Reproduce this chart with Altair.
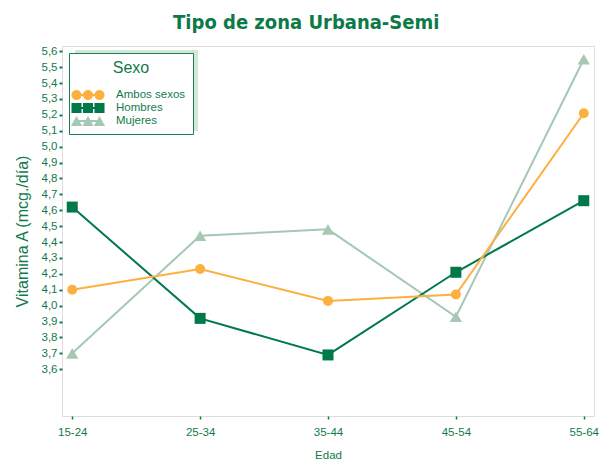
import altair as alt
import pandas as pd

edad = ["15-24", "25-34", "35-44", "45-54", "55-64"]
series = ["Ambos sexos", "Hombres", "Mujeres"]
ambos = [4.10, 4.23, 4.03, 4.07, 5.21]
hombres = [4.62, 3.92, 3.69, 4.21, 4.66]
mujeres = [3.70, 4.44, 4.48, 3.93, 5.55]
y_ticks = [3.6, 3.7, 3.8, 3.9, 4.0, 4.1, 4.2, 4.3, 4.4, 4.5, 4.6,
           4.7, 4.8, 4.9, 5.0, 5.1, 5.2, 5.3, 5.4, 5.5, 5.6]
colors = ["#FBB040", "#00794A", "#A5C8B3"]
shapes = ["circle", "square", "triangle-up"]
sizes = [100, 121, 150]

rows = []
for name, vals in zip(series, [ambos, hombres, mujeres]):
    for e, v in zip(edad, vals):
        rows.append({"Edad": e, "valor": v, "Sexo": name})
df = pd.DataFrame(rows)

GREEN = "#127A4A"
FONT = "Liberation Sans"

# legend symbols: three markers joined by a line (unit box -1..1)
def circ(cx, r):
    return f"M{cx - r},0 a{r},{r} 0 1,1 {2 * r},0 a{r},{r} 0 1,1 {-2 * r},0 Z "

line_bar = "M-1.64,-0.14 L1.64,-0.14 L1.64,0.14 L-1.64,0.14 Z "
p_circ = line_bar + "".join(circ(c, 0.72) for c in (-1.64, 0, 1.64))
p_sq = line_bar + "".join(
    f"M{c - 0.72},-0.72 L{c + 0.72},-0.72 L{c + 0.72},0.72 L{c - 0.72},0.72 Z " for c in (-1.64, 0, 1.64))
p_tri = line_bar + "".join(
    f"M{c},-0.7 L{c + 0.8},0.7 L{c - 0.8},0.7 Z " for c in (-1.64, 0, 1.64))
paths = [p_circ, p_sq, p_tri]

x_enc = alt.X("Edad:N", sort=edad, scale=alt.Scale(type="point", padding=0.08),
              axis=alt.Axis(title="Edad", labelAngle=0, domain=False, ticks=True,
                            tickSize=3, tickColor=GREEN, tickWidth=1.5,
                            labelFont=FONT, labelFontSize=11.5, labelColor=GREEN,
                            labelPadding=7, titleFont=FONT, titleFontSize=11.5,
                            titleFontWeight="normal", titleColor=GREEN,
                            titlePadding=12, grid=False))
y_enc = alt.Y("valor:Q", scale=alt.Scale(domain=[3.306, 5.633], nice=False, zero=False),
              axis=alt.Axis(title="Vitamina A (mcg./día)", values=y_ticks,
                            labelExpr="replace(format(datum.value, '.1f'), '.', ',')",
                            domain=False, tickSize=3, tickColor=GREEN, tickWidth=2,
                            labelFont=FONT, labelFontSize=11.5, labelColor=GREEN,
                            labelPadding=2, titleFont=FONT, titleFontSize=16,
                            titleFontWeight="normal", titleColor=GREEN,
                            titlePadding=11, grid=False))

shadow = alt.Chart(pd.DataFrame({"a": [0]})).mark_rect(color="#D3E7D9").encode(
    x=alt.value(13), x2=alt.value(136), y=alt.value(4), y2=alt.value(85))

layers = [shadow]
for idx in [2, 1, 0]:
    name = series[idx]
    base = alt.Chart(df).transform_filter(alt.datum.Sexo == name).encode(x=x_enc, y=y_enc)
    layers.append(base.mark_line(color=colors[idx], strokeWidth=2))
    layers.append(base.mark_point(shape=shapes[idx], filled=True, opacity=1,
                                  color=colors[idx], size=sizes[idx]))

leg = alt.Legend(title="Sexo", orient="none", legendX=7, legendY=7,
                 fillColor="white", strokeColor="#1B7F4F", padding=7,
                 titleAnchor="middle", titleFont=FONT, titleFontSize=16,
                 titleFontWeight="normal", titleColor=GREEN, titlePadding=12,
                 labelFont=FONT, labelFontSize=11.5, labelColor=GREEN,
                 symbolSize=196, symbolOffset=5, labelOffset=21, rowPadding=0,
                 symbolStrokeWidth=0)

legend_layer = alt.Chart(df).transform_filter("false").mark_point(
    filled=True, opacity=1).encode(
    x=x_enc, y=y_enc,
    color=alt.Color("Sexo:N", scale=alt.Scale(domain=series, range=colors), legend=leg),
    shape=alt.Shape("Sexo:N", scale=alt.Scale(domain=series, range=paths), legend=leg))
layers.append(legend_layer)

chart = alt.layer(*layers).properties(
    width=532, height=370,
    title=alt.TitleParams("Tipo de zona Urbana-Semi",
                          font="DejaVu Sans Condensed, Liberation Sans, sans-serif",
                          fontSize=20, fontWeight="bold", color="#0B7A47",
                          anchor="middle", frame="bounds", offset=12),
    autosize=alt.AutoSizeParams(type="none"),
    padding={"left": 54, "top": 38, "right": 6, "bottom": 46},
).configure_view(stroke="#3E9D6E", strokeWidth=1.5).configure(background="white")

chart.save("out.html", embed_options={"renderer": "svg", "actions": False})
